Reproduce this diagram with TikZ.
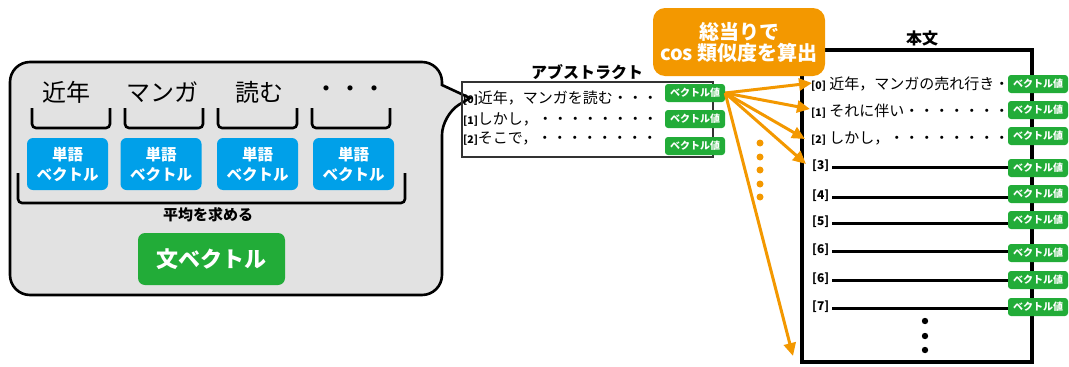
\documentclass[tikz,border=0pt]{standalone}
\usepackage{fontspec}
\setmainfont{Noto Sans CJK JP}
\usetikzlibrary{arrows.meta}
\definecolor{bubblegray}{HTML}{E2E2E2}
\definecolor{wblue}{HTML}{00A0E9}
\definecolor{sgreen}{HTML}{22AC38}
\definecolor{aorange}{HTML}{F39800}
\definecolor{boxgray}{HTML}{333333}
\tikzset{
  wordvec/.style={fill=wblue, rounded corners=6pt, minimum width=81pt, minimum height=52pt, text=white, font=\bfseries\fontsize{15.5}{20}\selectfont, align=center, inner sep=0pt},
  vallabel/.style={fill=sgreen, rounded corners=3pt, minimum width=60pt, minimum height=18pt, text=white, font=\bfseries\fontsize{10}{12}\selectfont, inner sep=0pt},
  word/.style={font=\fontsize{24}{26}\selectfont, inner sep=0pt},
  brk/.style={line width=2.6pt, rounded corners=4pt},
  abstxt/.style={anchor=west, inner sep=0pt, font=\fontsize{15}{17}\selectfont},
  rowidx/.style={anchor=west, inner sep=0pt, font=\bfseries\fontsize{12}{14}\selectfont},
  rowline/.style={line width=3pt},
  oarrow/.style={draw=aorange, line width=3pt, -{Triangle[length=13pt,width=12pt]}},
  title/.style={font=\bfseries\fontsize{16}{18}\selectfont, inner sep=0pt}
}
\newcommand{\idxf}{\bfseries\fontsize{10.5}{12}\selectfont}
\begin{document}
\begin{tikzpicture}[x=1pt,y=-1pt]
\useasboundingbox (0,0) rectangle (1069,367);
% speech bubble
\draw[line width=2.6pt, fill=bubblegray, rounded corners=20pt]
  (442,85) -- (442,62) -- (10,62) -- (10,295) -- (442,295) -- (442,115) [sharp corners] -- (470,98) -- cycle;
% words
\node[word] (w1) at (66,92) {近年};
\node[word] (w2) at (162,92) {マンガ};
\node[word] (w3) at (259,92) {読む};
\node[word] (w4) at (350,92) {・・・};
% small brackets
\draw[brk] (32,108) -- (32,128) -- (110,128) -- (110,108);
\draw[brk] (125,108) -- (125,128) -- (203,128) -- (203,108);
\draw[brk] (218,108) -- (218,128) -- (297,128) -- (297,108);
\draw[brk] (312,108) -- (312,128) -- (390,128) -- (390,108);
% word vectors
\node[wordvec] (v1) at (67.5,164) {単語\\ベクトル};
\node[wordvec] (v2) at (161,164) {単語\\ベクトル};
\node[wordvec] (v3) at (257.5,164) {単語\\ベクトル};
\node[wordvec] (v4) at (353.5,164) {単語\\ベクトル};
% big bracket
\draw[brk] (18,173) -- (18,203) -- (405,203) -- (405,173);
\node[font=\bfseries\fontsize{15}{17}\selectfont, inner sep=0pt] (avg) at (208,215) {平均を求める};
\node[fill=sgreen, rounded corners=7pt, minimum width=147pt, minimum height=52pt, text=white, font=\bfseries\fontsize{22}{24}\selectfont, inner sep=0pt] (sv) at (211.5,259) {文ベクトル};

% abstract
\node[title] (abt) at (587,72) {アブストラクト};
\draw[line width=1.5pt, draw=boxgray] (462,82) rectangle (713,157);
\node[abstxt] (a0) at (463,98) {{\idxf[0]}近年，マンガを読む・・・};
\node[abstxt] (a1) at (463,119) {{\idxf[1]}しかし，・・・・・・・・};
\node[abstxt] (a2) at (463,139) {{\idxf[2]}そこで，・・・・・・・・};
\node[vallabel] (av0) at (695,93) {ベクトル値};
\node[vallabel] (av1) at (695,119) {ベクトル値};
\node[vallabel] (av2) at (695,146) {ベクトル値};

% body
\node[title] (bt) at (922,38) {本文};
\draw[line width=4pt] (802,50) rectangle (1032,362);
\node[abstxt] (b0) at (811,84) {{\idxf[0]} 近年，マンガの売れ行き・};
\node[abstxt] (b1) at (811,111) {{\idxf[1]} それに伴い・・・・・・・};
\node[abstxt] (b2) at (811,138) {{\idxf[2]} しかし，・・・・・・・・};
\node[rowidx] (b3) at (812,166) {[3]};
\node[rowidx] (b4) at (812,196) {[4]};
\node[rowidx] (b5) at (812,222) {[5]};
\node[rowidx] (b6) at (812,250) {[6]};
\node[rowidx] (b7) at (812,279) {[6]};
\node[rowidx] (b8) at (812,307) {[7]};
\foreach \y in {167,197,223,251,280,308}{
  \draw[rowline] (832,\y) -- (1012,\y);
}
\node[vallabel] (bv0) at (1038,84) {ベクトル値};
\node[vallabel] (bv1) at (1038,110) {ベクトル値};
\node[vallabel] (bv2) at (1038,136) {ベクトル値};
\node[vallabel] (bv3) at (1038,168) {ベクトル値};
\node[vallabel] (bv4) at (1038,194) {ベクトル値};
\node[vallabel] (bv5) at (1038,220) {ベクトル値};
\node[vallabel] (bv6) at (1038,253) {ベクトル値};
\node[vallabel] (bv7) at (1038,280) {ベクトル値};
\node[vallabel] (bv8) at (1038,307) {ベクトル値};
\foreach \y in {321,336,350}{ \fill (925,\y) circle (3.2pt); }

% orange box
\node[fill=aorange, rounded corners=12pt, minimum width=172pt, minimum height=68pt, text=white, font=\bfseries\fontsize{20}{21}\selectfont, align=center, inner sep=0pt] (cos) at (739,42) {総当りで\\cos 類似度を算出};

% arrows
\coordinate (t0) at (812,83);
\coordinate (t1) at (810,109);
\coordinate (t2) at (805,139);
\coordinate (t3) at (806,164);
\coordinate (tend) at (793,356);
\draw[oarrow] (av0.east) -- (t0);
\draw[oarrow] (av0.east) -- (t1);
\draw[oarrow] (av0.east) -- (t2);
\draw[oarrow] (av0.east) -- (t3);
\draw[oarrow] (av0.east) -- (tend);
\foreach \y in {143,157,170,184,197}{ \fill[aorange] (760,\y) circle (3.5pt); }
\end{tikzpicture}
\end{document}
